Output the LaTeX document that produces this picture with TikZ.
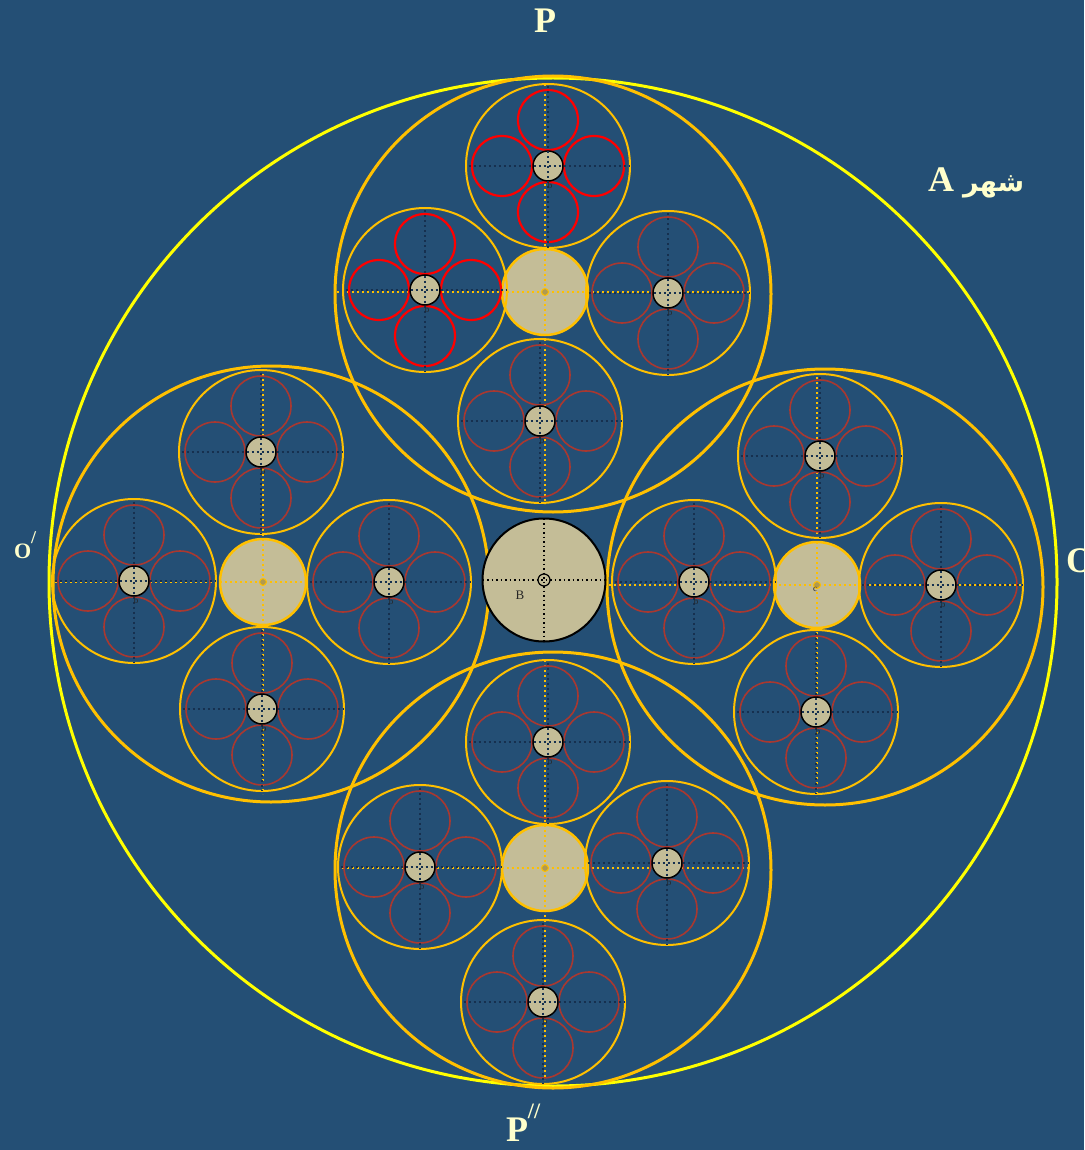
\documentclass[tikz,border=0pt]{standalone}
\usepackage{fontspec}
\setmainfont{Liberation Serif}
\newfontfamily\arabicfont[Script=Arabic]{DejaVu Sans}
\TeXXeTstate=1
\definecolor{bgblue}{HTML}{244F75}
\definecolor{ringorange}{HTML}{FFC000}
\definecolor{cityyellow}{HTML}{FFFF00}
\definecolor{sand}{HTML}{C4BD97}
\definecolor{petalbrown}{HTML}{A93830}
\definecolor{petalred}{HTML}{FF0000}
\definecolor{navydot}{HTML}{16304F}
\definecolor{cream}{HTML}{FFFFCC}
\definecolor{dotcore}{HTML}{B09A50}

\begin{document}
\begin{tikzpicture}[x=1pt, y=-1pt, every node/.style={inner sep=0pt, outer sep=0pt}]
  \tikzstyle{cityring}=[circle, draw=cityyellow, line width=3pt, minimum size=1008]
  \tikzstyle{bigring}=[circle, draw=ringorange, line width=3pt, minimum size=436]
  \tikzstyle{core}=[circle, fill=sand, draw=ringorange, line width=2.5pt, minimum size=86]
  \tikzstyle{subring}=[circle, draw=ringorange, line width=2pt, minimum size=164]
  \tikzstyle{petal}=[circle, minimum size=60]
  \tikzstyle{hub}=[circle, fill=sand, draw=black, line width=1.5pt, minimum size=30]
  \tikzstyle{orangeline}=[ringorange, line width=2pt, dash pattern=on 2pt off 3pt]
  \tikzstyle{navyline}=[navydot, line width=2pt, dash pattern=on 2pt off 3pt, dash phase=2.5pt]
  \tikzstyle{blackline}=[black, line width=1.8pt, dash pattern=on 1.8pt off 2.7pt]
  \tikzstyle{title}=[text=cream, font=\fontsize{36}{36}\selectfont\bfseries]
  \tikzstyle{tiny}=[text=black!85, font=\fontsize{9}{9}\selectfont]

  \useasboundingbox (0,0) rectangle (1084,1150);
  \clip (0,0) rectangle (1084,1150);
  \fill[bgblue] (0,0) rectangle (1084,1150);

  % city A
  \node[cityring] (city) at (553,582) {};

  % four districts with their axes
  \foreach \cx/\cy/\k in {545/292/t, 263/582/l, 817/585/r, 545/868/b}{
    \node[bigring] (\k) at ({\cx+8},{\cy+2}) {};
    \node[core] (\k0) at (\cx,\cy) {};
    \coordinate (\k-n) at (\cx,{\cy-208});
    \coordinate (\k-s) at (\cx,{\cy+212});
    \coordinate (\k-w) at ({\cx-208},\cy);
    \coordinate (\k-e) at ({\cx+206},\cy);
    \draw[orangeline] (\k-n) -- (\k-s);
    \draw[orangeline] (\k-w) -- (\k-e);
    \node[circle, fill=dotcore, draw=ringorange, line width=1pt, minimum size=7] (\k-dot) at (\k0) {};
  }

  % neighbourhoods
  \foreach \x/\y/\pc/\pw [count=\n] in {548/166/petalred/2.2pt, 425/290/petalred/2.2pt,
      668/293/petalbrown/1.6pt, 540/421/petalbrown/1.6pt,
      261/452/petalbrown/1.6pt, 134/581/petalbrown/1.6pt, 389/582/petalbrown/1.6pt, 262/709/petalbrown/1.6pt,
      820/456/petalbrown/1.6pt, 694/582/petalbrown/1.6pt, 941/585/petalbrown/1.6pt, 816/712/petalbrown/1.6pt,
      548/742/petalbrown/1.6pt, 420/867/petalbrown/1.6pt, 667/863/petalbrown/1.6pt, 543/1002/petalbrown/1.6pt}{
    \node[subring] (s\n) at (\x,\y) {};
    \foreach \px/\py [count=\m] in {0/-46, -46/0, 46/0, 0/46}
      \node[petal, draw=\pc, line width=\pw] (s\n-\m) at ({\x+\px},{\y+\py}) {};
    \node[hub] (h\n) at (\x,\y) {};
    \draw[navyline] (s\n.north) -- (s\n.south);
    \draw[navyline] (s\n.west) -- (s\n.east);
    \node[tiny] (lab\n) at ({\x+2},{\y+19}) {b};
  }
  \node[tiny] (clab) at (815,589) {c};

  % centre B
  \node[circle, fill=sand, draw=black, line width=2pt, minimum size=123] (B) at (544,580) {};
  \draw[blackline] (B.north) -- (B.south);
  \draw[blackline] (B.west) -- (B.east);
  \node[circle, draw=black, line width=1.2pt, minimum size=12] (B0) at (B) {};
  \node[text=black!85, font=\fontsize{13}{13}\selectfont] (Blab) at (520,595) {B};

  % names
  \node[title, anchor=base] (P) at (545,33) {P};
  \node[title, anchor=base west] (Pdd) at (506,1141) {P\raisebox{23pt}{\fontsize{22}{22}\selectfont //}};
  \node[title, anchor=base west, font=\fontsize{22}{22}\selectfont\bfseries] (Od) at (14,558) {O\raisebox{15pt}{\fontsize{18}{18}\selectfont /}};
  \node[title, anchor=base west] (O) at (1066,572) {O};
  \node[title, anchor=base west] (cityname) at (928,192) {A {\arabicfont\fontsize{27}{27}\selectfont\beginR شهر\endR}};
\end{tikzpicture}
\end{document}
